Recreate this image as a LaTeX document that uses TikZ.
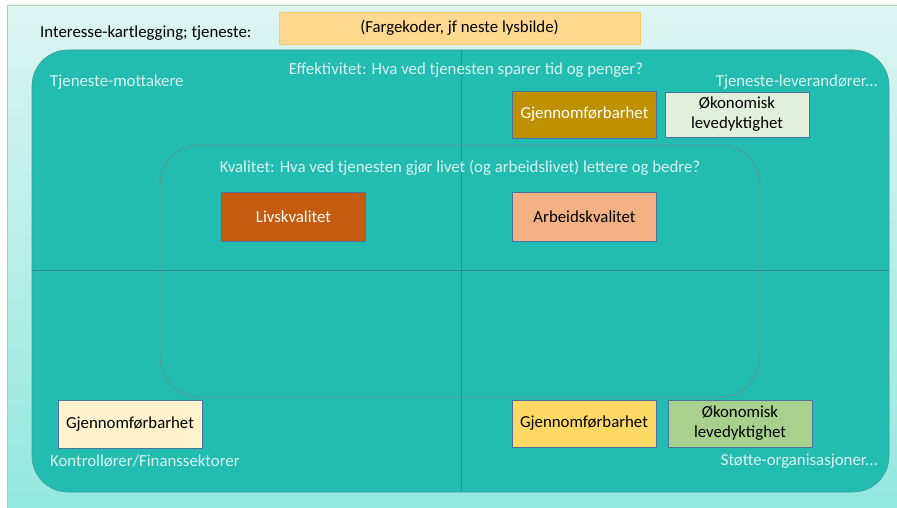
\documentclass[tikz,border=0pt]{standalone}
\usepackage{fontspec}
\setmainfont{Carlito}
\definecolor{panelTop}{HTML}{DDF4F1}
\definecolor{panelBot}{HTML}{93E8DF}
\definecolor{panelEdge}{HTML}{A8D5A0}
\definecolor{teal}{HTML}{23BCB1}
\definecolor{tealEdge}{HTML}{3E9C95}
\definecolor{divider}{HTML}{2F8C86}
\definecolor{innerEdge}{HTML}{5E938F}
\definecolor{lighttext}{HTML}{DAF3EF}
\definecolor{boxedge}{HTML}{4A72A0}
\definecolor{noteFill}{HTML}{FFD98F}
\definecolor{noteEdge}{HTML}{F7CB5E}
\definecolor{goldDark}{HTML}{BF9000}
\definecolor{greenPale}{HTML}{E2EFDA}
\definecolor{rust}{HTML}{C55A11}
\definecolor{peach}{HTML}{F4B183}
\definecolor{creamPale}{HTML}{FFF2CC}
\definecolor{yellowMid}{HTML}{FFD966}
\definecolor{greenMid}{HTML}{A9D18E}
\tikzset{
  base/.style={font=\fontsize{16.8}{20}\selectfont},
  caption/.style={base, text=lighttext, inner sep=0pt},
  cardbox/.style={base, draw=boxedge, line width=0.7pt, minimum width=144pt,
    minimum height=47pt, align=center, inner sep=2pt},
}
\begin{document}
\begin{tikzpicture}[x=1pt,y=-1pt]
\useasboundingbox (0,0) rectangle (897,508);
% light backdrop panel
\shade[top color=panelTop, bottom color=panelBot] (7,5) rectangle (897,508);
\draw[panelEdge, line width=0.8pt] (7,508) -- (7,5) -- (897,5);
% title row
\node[base, anchor=west, inner sep=0pt] (title) at (40,33) {Interesse-kartlegging; tjeneste:};
\node[base, draw=noteEdge, fill=noteFill, line width=0.8pt, minimum width=361pt,
  minimum height=32pt, inner sep=0pt] (note) at (459.5,28) {(Fargekoder, jf neste lysbilde)};
% main field with quadrants
\draw[fill=teal, draw=tealEdge, line width=0.6pt, rounded corners=36pt]
  (32,50) rectangle (889,492);
\draw[divider, line width=0.6pt] (461,50) -- (461,492);
\draw[divider, line width=0.6pt] (32,270) -- (889,270);
% inner quality region
\draw[draw=innerEdge, line width=0.8pt, rounded corners=40pt]
  (160,145) rectangle (760,397);
% captions
\node[caption] (eff) at (466,70) {Effektivitet: Hva ved tjenesten sparer tid og penger?};
\node[caption, anchor=west] (recv) at (50,82) {Tjeneste-mottakere};
\node[caption, anchor=east] (supp) at (878,82) {Tjeneste-leverandører...};
\node[caption] (kval) at (460,168) {Kvalitet: Hva ved tjenesten gjør livet (og arbeidslivet) lettere og bedre?};
\node[caption, anchor=west] (ctrl) at (50,461) {Kontrollører/Finanssektorer};
\node[caption, anchor=east] (supo) at (878,461) {Støtte-organisasjoner...};
% cards
\node[cardbox, fill=goldDark, text=white] (g1) at (584.5,114.5) {Gjennomførbarhet};
\node[cardbox, fill=greenPale, minimum height=45pt] (o1) at (737,114.5) {Økonomisk\\levedyktighet};
\node[cardbox, fill=rust, text=white, minimum height=49pt] (liv) at (293.5,216.5) {Livskvalitet};
\node[cardbox, fill=peach, minimum height=49pt] (arb) at (584.5,216.5) {Arbeidskvalitet};
\node[cardbox, fill=creamPale, minimum height=48pt] (g2) at (130,424) {Gjennomførbarhet};
\node[cardbox, fill=yellowMid] (g3) at (584,423.5) {Gjennomførbarhet};
\node[cardbox, fill=greenMid] (o2) at (740,423.5) {Økonomisk\\levedyktighet};
\end{tikzpicture}
\end{document}
